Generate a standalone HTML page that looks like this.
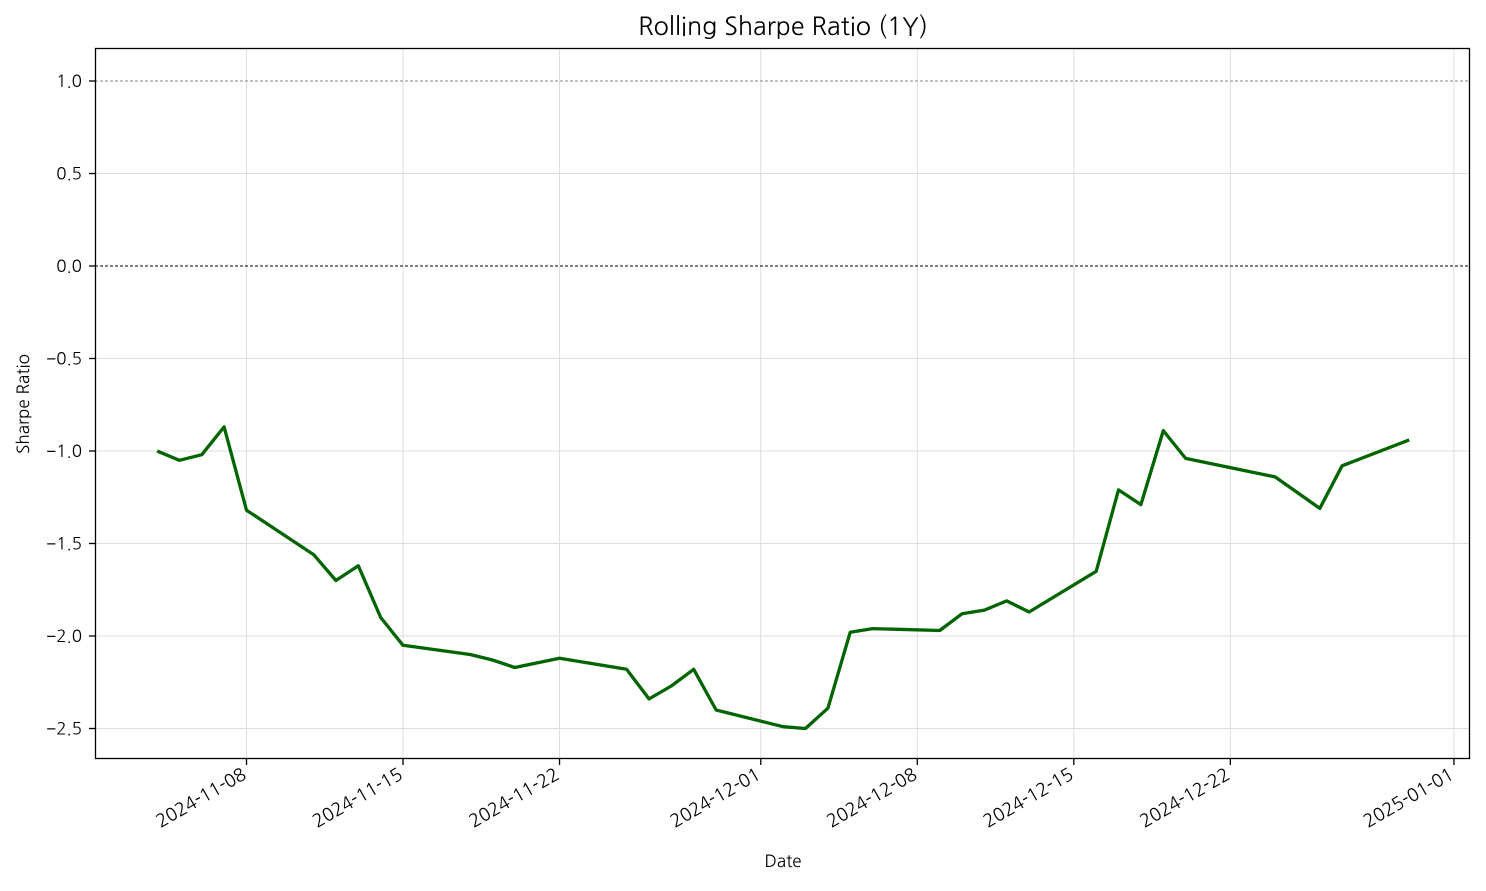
<!DOCTYPE html>
<html><head><meta charset="utf-8"><style>
body{margin:0;background:#fff;}
svg text{font-family:"NanumGothic","Liberation Sans",sans-serif;fill:#000;}
</style></head><body>
<svg id="chart" width="1486" height="886" xmlns="http://www.w3.org/2000/svg">
<rect width="1486" height="886" fill="#fff"/>
<g id="grid"></g>
<g id="refs"></g>
<g id="series"></g>
<rect x="95.5" y="48.5" width="1374" height="710" fill="none" stroke="#000" stroke-width="1.3"/>
<g id="xt"></g>
<g id="yt"></g>
<text x="783" y="35" font-size="25" text-anchor="middle">Rolling Sharpe Ratio (1Y)</text>
<text x="783" y="867" font-size="17" text-anchor="middle">Date</text>
<text x="0" y="0" font-size="17" text-anchor="middle" transform="translate(29,404) rotate(-90)">Sharpe Ratio</text>
</svg>
<script>
const dates=["2024-11-04","2024-11-05","2024-11-06","2024-11-07","2024-11-08","2024-11-11","2024-11-12","2024-11-13","2024-11-14","2024-11-15","2024-11-18","2024-11-19","2024-11-20","2024-11-22","2024-11-25","2024-11-26","2024-11-27","2024-11-28","2024-11-29","2024-12-02","2024-12-03","2024-12-04","2024-12-05","2024-12-06","2024-12-09","2024-12-10","2024-12-11","2024-12-12","2024-12-13","2024-12-16","2024-12-17","2024-12-18","2024-12-19","2024-12-20","2024-12-24","2024-12-26","2024-12-27","2024-12-30"];
const sharpe=[-1.00,-1.05,-1.02,-0.87,-1.32,-1.56,-1.70,-1.62,-1.90,-2.05,-2.10,-2.13,-2.17,-2.12,-2.18,-2.34,-2.27,-2.18,-2.40,-2.49,-2.50,-2.39,-1.98,-1.96,-1.97,-1.88,-1.86,-1.81,-1.87,-1.65,-1.21,-1.29,-0.89,-1.04,-1.14,-1.31,-1.08,-0.94];
const xTicks=["2024-11-08","2024-11-15","2024-11-22","2024-12-01","2024-12-08","2024-12-15","2024-12-22","2025-01-01"];
const yTicks=[1.0,0.5,0.0,-0.5,-1.0,-1.5,-2.0,-2.5];
const yTickLabels=["1.0","0.5","0.0","−0.5","−1.0","−1.5","−2.0","−2.5"];
const NS="http://www.w3.org/2000/svg";
const day0=Date.UTC(2024,10,8);
function x(d){const t=Date.parse(d+"T00:00:00Z");return 246.5+(t-day0)/86400000*22.36;}
function y(v){return 266-v*185;}
function mk(tag,attrs,parent){const e=document.createElementNS(NS,tag);for(const k in attrs)e.setAttribute(k,attrs[k]);parent.appendChild(e);return e;}
const grid=document.getElementById('grid'),xt=document.getElementById('xt'),yt=document.getElementById('yt'),refs=document.getElementById('refs'),series=document.getElementById('series');
xTicks.forEach(d=>{const px=x(d);
 const g=mk('line',{x1:px,x2:px,y1:48,y2:758,stroke:'#ddd','stroke-width':1},grid);
 
 
 const t=mk('line',{x1:px,x2:px,y1:758,y2:765,stroke:'#000','stroke-width':1.3},xt);
 
 
 const l=mk('text',{x:0,y:0,'font-size':18,'text-anchor':'end',transform:`translate(${px+1},${778}) rotate(-30)`},xt);
 l.textContent=d;
 
 
});
yTicks.forEach((v,i)=>{const py=y(v);
 if(v!==0&&v!==1){const g=mk('line',{x1:95,x2:1469,y1:py,y2:py,stroke:'#ddd','stroke-width':1},grid);
 
 }
 const t=mk('line',{x1:89,x2:95,y1:py,y2:py,stroke:'#000','stroke-width':1.3},yt);
 
 
 const l=mk('text',{x:82,y:py+6,'font-size':17,'text-anchor':'end'},yt);
 l.textContent=yTickLabels[i];
 
 
});
const r0=mk('line',{x1:95,x2:1469,y1:y(0),y2:y(0),stroke:'#000','stroke-width':0.9,'stroke-dasharray':'3,2'},refs);


const r1=mk('line',{x1:95,x2:1469,y1:y(1),y2:y(1),stroke:'#888','stroke-width':0.9,'stroke-dasharray':'3,2'},refs);


const pts=dates.map((d,i)=>x(d).toFixed(1)+','+y(sharpe[i]).toFixed(1)).join(' ');
const pl=mk('polyline',{points:pts,fill:'none',stroke:'#006400','stroke-width':3.3,'stroke-linejoin':'round'},series);


</script>
</body></html>
